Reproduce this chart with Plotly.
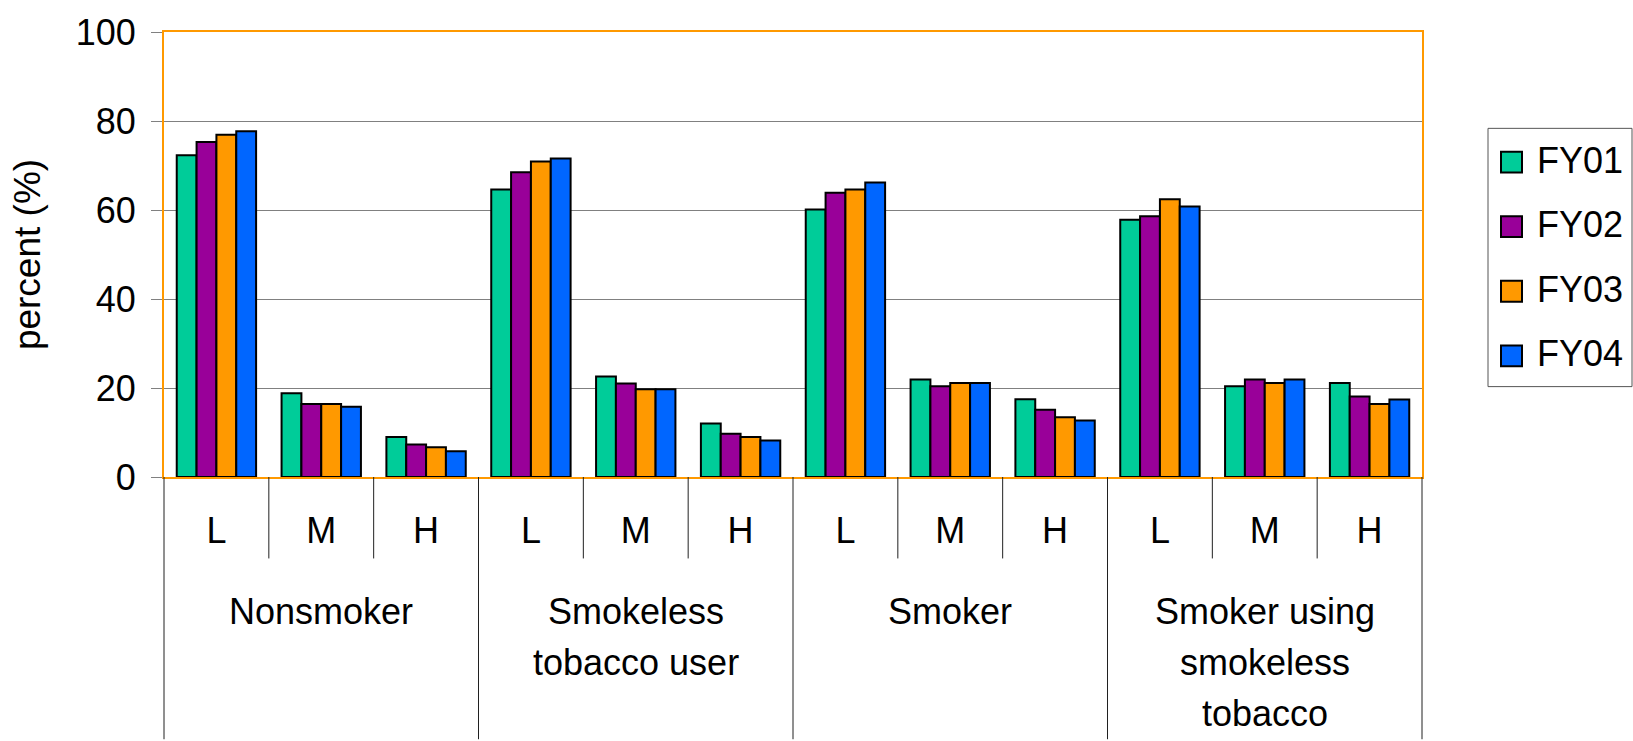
import plotly.graph_objects as go

SERIES = ["FY01", "FY02", "FY03", "FY04"]
COLORS = ["#00CC99", "#990099", "#FF9900", "#0066FF"]
GROUPS = ["Nonsmoker", "Smokeless\ntobacco user", "Smoker", "Smoker using\nsmokeless\ntobacco"]
LEVELS = ["L", "M", "H"]
FY01 = [72.3, 18.8, 9.0, 64.6, 22.6, 12.0, 60.1, 21.9, 17.5, 57.8, 20.4, 21.1]
FY02 = [75.3, 16.4, 7.3, 68.5, 21.0, 9.7, 63.9, 20.4, 15.1, 58.6, 21.9, 18.1]
FY03 = [76.9, 16.4, 6.7, 70.9, 19.7, 9.0, 64.6, 21.1, 13.4, 62.4, 21.1, 16.4]
FY04 = [77.7, 15.8, 5.8, 71.6, 19.7, 8.2, 66.2, 21.1, 12.7, 60.8, 21.9, 17.4]
VALUES = [FY01, FY02, FY03, FY04]
Y_TICKS = [0, 20, 40, 60, 80, 100]

FONT = "Arial, Liberation Sans, sans-serif"
FS = 36

W, H = 1633, 741
ML, MR, MT, MB = 164, 211, 29, 264
PW, PH = W - ML - MR, H - MT - MB

n_cat = len(GROUPS) * len(LEVELS)
xpos = list(range(n_cat))
xlabels = [LEVELS[i % len(LEVELS)] for i in range(n_cat)]

fig = go.Figure()
for name, color, vals in zip(SERIES, COLORS, VALUES):
    fig.add_trace(go.Bar(
        x=xpos, y=vals, name=name, showlegend=False,
        marker=dict(color=color, line=dict(color="black", width=2)),
    ))

def px_to_paper_x(px):
    return (px - ML) / PW

def px_to_paper_y(py):
    return (H - MB - py) / PH

shapes = []
annotations = []
# dividers below the x axis
for k in range(n_cat + 1):
    xp = k / n_cat
    is_group = (k % len(LEVELS) == 0)
    ybot = px_to_paper_y(741) if is_group else px_to_paper_y(559)
    shapes.append(dict(type="line", xref="paper", yref="paper", x0=xp, x1=xp,
                       y0=0, y1=ybot, line=dict(color="#202020", width=1)))

# group labels (one annotation per line)
line_y = [612, 663.5, 715]
for g, label in enumerate(GROUPS):
    xc = (g * len(LEVELS) + (len(LEVELS) - 1) / 2 + 0.5) / n_cat
    for li, text in enumerate(label.split("\n")):
        annotations.append(dict(text=text, xref="paper", yref="paper",
                                x=xc, y=px_to_paper_y(line_y[li]),
                                xanchor="center", yanchor="middle", showarrow=False,
                                font=dict(family=FONT, size=FS, color="black")))

# legend box
shapes.append(dict(type="rect", xref="paper", yref="paper",
                   x0=px_to_paper_x(1488), x1=px_to_paper_x(1632),
                   y0=px_to_paper_y(126), y1=px_to_paper_y(386),
                   line=dict(color="#555555", width=1), fillcolor="white"))
for i, (name, color) in enumerate(zip(SERIES, COLORS)):
    cy = 160 + 65 * i
    shapes.append(dict(type="rect", xref="paper", yref="paper",
                       x0=px_to_paper_x(1501), x1=px_to_paper_x(1522),
                       y0=px_to_paper_y(cy - 10.5), y1=px_to_paper_y(cy + 10.5),
                       line=dict(color="black", width=2), fillcolor=color))
    annotations.append(dict(text=name, xref="paper", yref="paper",
                            x=px_to_paper_x(1535), y=px_to_paper_y(cy - 2),
                            xanchor="left", yanchor="middle", showarrow=False,
                            font=dict(family=FONT, size=FS, color="black")))

fig.update_layout(
    width=W, height=H,
    margin=dict(l=ML, r=MR, t=MT, b=MB, pad=0),
    paper_bgcolor="white", plot_bgcolor="white",
    barmode="group", bargap=0.243, bargroupgap=0,
    showlegend=False,
    font=dict(family=FONT, size=FS, color="black"),
    shapes=shapes, annotations=annotations,
    xaxis=dict(range=[-0.5, n_cat - 0.5], tickmode="array", tickvals=xpos,
               ticktext=xlabels, ticks="", showgrid=False, zeroline=False,
               showline=True, linecolor="#FF9900", linewidth=2, mirror=True,
               tickfont=dict(family=FONT, size=FS, color="black"),
               ticklabelstandoff=21, fixedrange=True),
    yaxis=dict(range=[0, 100], tickmode="array", tickvals=Y_TICKS,
               ticks="outside", ticklen=11, tickcolor="#808080", tickwidth=1,
               showgrid=True, gridcolor="#808080", gridwidth=1, zeroline=False,
               showline=True, linecolor="#FF9900", linewidth=2, mirror=True,
               tickfont=dict(family=FONT, size=FS, color="black"),
               ticklabelstandoff=8,
               title=dict(text="percent (%)", standoff=24,
                          font=dict(family=FONT, size=37, color="black")),
               fixedrange=True),
)

fig.write_html("out.html")
